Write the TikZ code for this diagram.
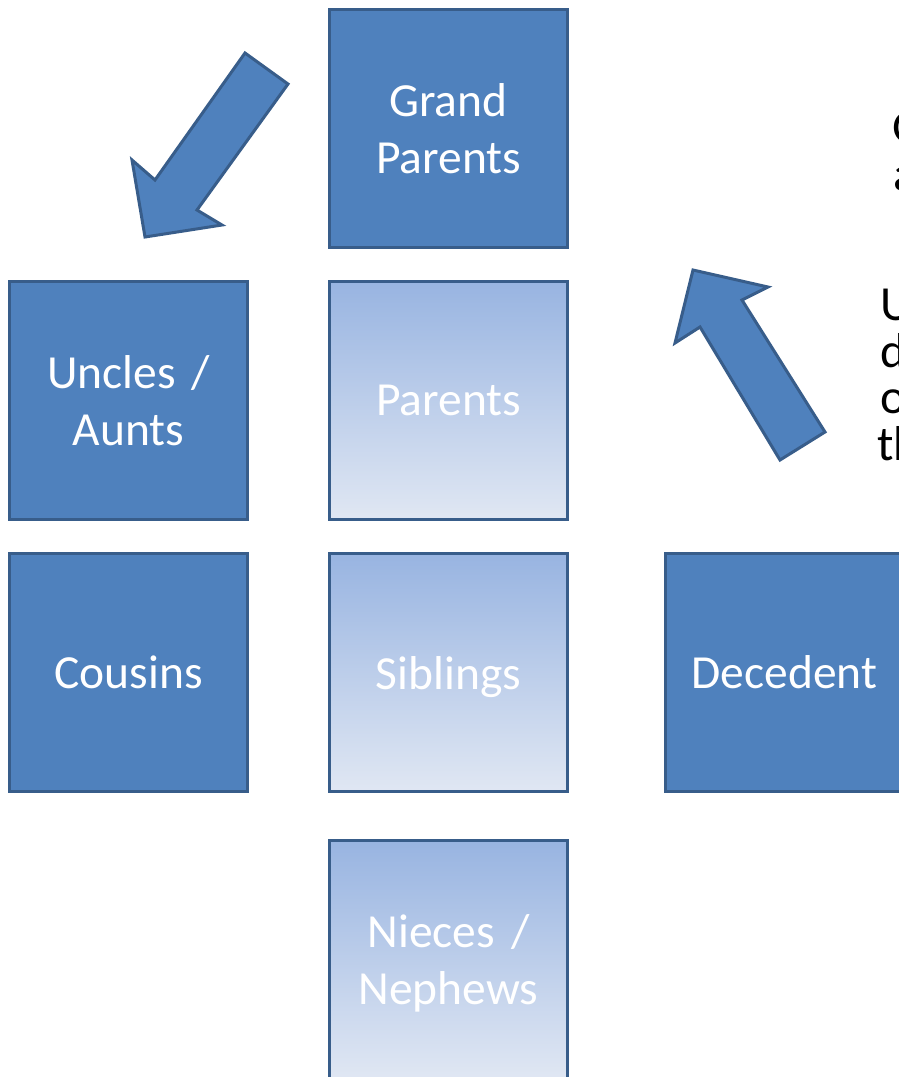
\documentclass[tikz,border=0pt]{standalone}
\usepackage{fontspec}
\setmainfont{Carlito}
\usetikzlibrary{matrix}

\definecolor{boxblue}{RGB}{79,129,189}
\definecolor{boxline}{RGB}{56,93,138}
\definecolor{paletop}{RGB}{152,180,225}
\definecolor{palebottom}{RGB}{224,231,243}

\begin{document}
\begin{tikzpicture}[x=1pt, y=-1pt,
        font=\fontsize{47.5}{57}\selectfont,
        box/.style={draw=boxline, line width=3pt, fill=boxblue, text=white,
            minimum width=238pt, minimum height=238pt, inner sep=0pt, outer sep=1.5pt,
            text width=220pt, align=center, anchor=center},
        pale/.style={box, top color=paletop, bottom color=palebottom},
        blockarrow/.style={draw=boxline, line width=3pt, fill=boxblue},
        notetext/.style={anchor=base west, inner sep=0pt, text=black,
            font=\fontsize{49}{57}\selectfont}
        ]
            \useasboundingbox (0,0) rectangle (899,1077);
            \clip (0,0) rectangle (899,1077);

            % Kaesten
            \matrix (M) [
                matrix of nodes, anchor=north west,
                inner sep=0pt, outer sep=0pt,
                column sep=79pt, row sep=31pt,
                nodes={box}
            ] at (8,8)
            {
                & {Grand\\Parents} \\
                {Uncles /\\Aunts} & |[pale]| Parents \\
                Cousins & |[pale, text depth=0pt]| Siblings &[16pt] Decedent \\[15pt]
                & |[pale, text depth=57pt]| {Nieces /\\Nephews} \\
            };

            % Pfeile
            \draw[blockarrow] (245,53) -- (155,180) -- (132,160) -- (145,237)
                              -- (222,225) -- (197,210) -- (288,84) -- cycle;
            \draw[blockarrow] (693,270) -- (768,287) -- (742,300) -- (825,432)
                              -- (780,460) -- (700,327) -- (675,343) -- cycle;

            % Text rechts
            \foreach \txt/\x/\y [count=\i] in {G/892/143, a/893/190, U/880/320,
                                               d/880/367, o/880/413, th/877/460}
                \node[notetext] (note\i) at (\x,\y) {\txt};

\end{tikzpicture}
\end{document}
